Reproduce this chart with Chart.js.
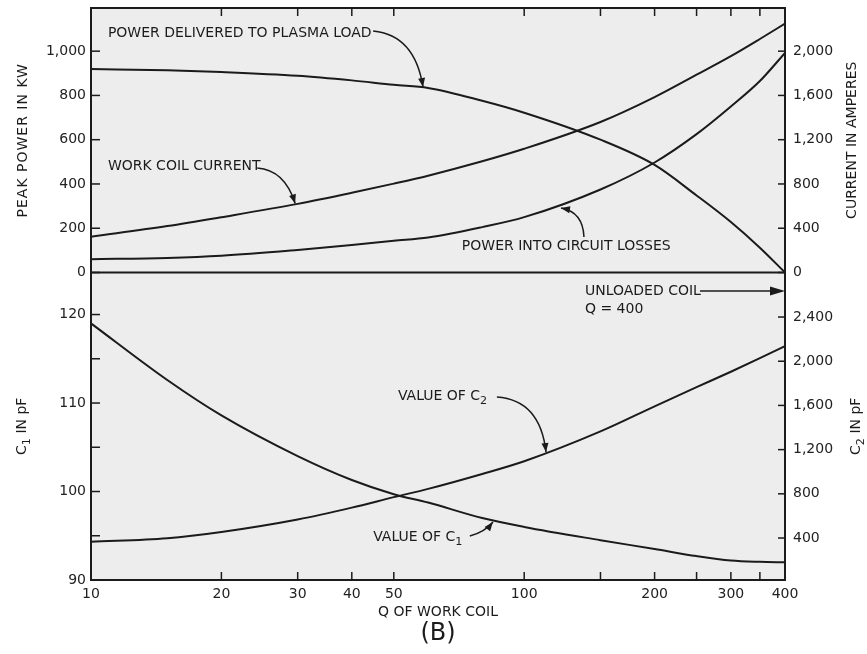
<!DOCTYPE html>
<html>
<head>
<meta charset="utf-8">
<script src="https://cdn.jsdelivr.net/npm/chart.js@4.4.0/dist/chart.umd.min.js"></script>
<style>
html, body { margin: 0; padding: 0; background: #fff; }
canvas { display: block; }
</style>
</head>
<body>
<canvas id="chart" width="867" height="654" style="width:867px;height:654px"></canvas>
<script>
// Q of work coil (log x axis)
var qValues = [10, 15, 20, 30, 40, 50, 60, 80, 100, 150, 200, 250, 300, 350, 400];

// upper panel
var powerToLoad = [919, 914, 906, 889, 868, 848, 834, 776, 722, 600, 486, 348, 228, 112, 0];      // kW
var circuitLosses = [60, 66, 76, 102, 124, 143, 158, 205, 250, 375, 497, 625, 750, 865, 992];     // kW
var coilCurrent = [324, 420, 500, 620, 720, 803, 875, 1005, 1118, 1360, 1585, 1787, 1955, 2110, 2249]; // amperes

// lower panel
var c1Values = [119.0, 112.6, 108.6, 104.0, 101.3, 99.7, 98.75, 97.0, 96.0, 94.5, 93.5, 92.7, 92.2, 92.05, 92.0]; // pF
var c2Values = [366, 398, 455, 568, 675, 770, 845, 980, 1095, 1365, 1592, 1765, 1905, 2028, 2137];  // pF

// ticks
var xTicks = [10, 20, 30, 40, 50, 100, 150, 200, 250, 300, 350, 400];
var xLabels = [10, 20, 30, 40, 50, 100, 200, 300, 400];
var powerTicks = [0, 200, 400, 600, 800, 1000];
var currentTicks = [0, 400, 800, 1200, 1600, 2000];
var c1Ticks = [90, 95, 100, 105, 110, 115, 120];
var c1Labels = [90, 100, 110, 120];
var c2Ticks = [400, 800, 1200, 1600, 2000, 2400];

var ink = '#1b1b1b';
var family = '"DejaVu Sans", sans-serif';

// notes on the plot, placed in data units
var textNotes = [
    { parts: [{ t: 'POWER DELIVERED TO PLASMA LOAD' }], q: 10.94, v: 1082, axis: 'yP' },
    { parts: [{ t: 'WORK COIL CURRENT' }], q: 10.94, v: 481, axis: 'yP' },
    { parts: [{ t: 'POWER INTO CIRCUIT LOSSES' }], q: 71.8, v: 120, axis: 'yP' },
    { parts: [{ t: 'UNLOADED COIL' }], q: 138.1, v: 122.66, axis: 'yC1' },
    { parts: [{ t: 'Q = 400' }], q: 138.1, v: 120.62, axis: 'yC1' },
    { parts: [{ t: 'VALUE OF C' }, { t: '2', sub: true }], q: 51.1, v: 110.79, axis: 'yC1' },
    { parts: [{ t: 'VALUE OF C' }, { t: '1', sub: true }], q: 44.8, v: 94.86, axis: 'yC1' }
];

var arrowNotes = [
    { axis: 'yP', from: [44.8, 1091], ctrl: [55.9, 1073], to: [58.4, 838] },
    { axis: 'yP', from: [24.2, 472], ctrl: [28.0, 463], to: [29.6, 312] },
    { axis: 'yP', from: [137.4, 160], ctrl: [136.7, 273], to: [121.6, 291] },
    { axis: 'yC1', from: [254.6, 122.66], to: [400, 122.66] },
    { axis: 'yC1', from: [86.5, 110.68], ctrl: [108.8, 110.34], to: [112.3, 104.46] },
    { axis: 'yC1', from: [74.9, 94.97], ctrl: [81.2, 95.42], to: [84.7, 96.55] }
];

function pt(chart, q, v, axis) {
    return { x: chart.scales.x.getPixelForValue(q), y: chart.scales[axis].getPixelForValue(v) };
}

function drawRich(ctx, parts, x, y, size, center) {
    var total = 0;
    parts.forEach(function (p) {
        ctx.font = (p.sub ? size * 0.8 : size) + 'px ' + family;
        p.w = ctx.measureText(p.t).width;
        total += p.w;
    });
    var cx = center ? x - total / 2 : x;
    ctx.textAlign = 'left';
    ctx.textBaseline = 'middle';
    parts.forEach(function (p) {
        ctx.font = (p.sub ? size * 0.8 : size) + 'px ' + family;
        ctx.fillText(p.t, cx, p.sub ? y + size * 0.38 : y);
        cx += p.w;
    });
}

function arrowHead(ctx, from, to, len, half) {
    var a = Math.atan2(to.y - from.y, to.x - from.x);
    var c = Math.cos(a), s = Math.sin(a);
    ctx.beginPath();
    ctx.moveTo(to.x, to.y);
    ctx.lineTo(to.x - len * c + half * s, to.y - len * s - half * c);
    ctx.lineTo(to.x - len * c - half * s, to.y - len * s + half * c);
    ctx.closePath();
    ctx.fill();
}

function line(ctx, x1, y1, x2, y2) {
    ctx.beginPath();
    ctx.moveTo(x1, y1);
    ctx.lineTo(x2, y2);
    ctx.stroke();
}

function sideTitle(ctx, parts, x, scale, size) {
    ctx.save();
    ctx.translate(x, (scale.top + scale.bottom) / 2);
    ctx.rotate(-Math.PI / 2);
    drawRich(ctx, parts, 0, 0, size, true);
    ctx.restore();
}

var paperPlugin = {
    id: 'paper',
    beforeDraw: function (chart) {
        var ctx = chart.ctx, a = chart.chartArea;
        ctx.save();
        ctx.fillStyle = '#ffffff';
        ctx.fillRect(0, 0, chart.width, chart.height);
        ctx.fillStyle = '#ededed';
        ctx.fillRect(a.left, a.top, a.right - a.left, a.bottom - a.top);
        ctx.restore();
    },
    afterDraw: function (chart) {
        var ctx = chart.ctx, a = chart.chartArea;
        var sc = chart.scales;
        ctx.save();
        ctx.strokeStyle = ink;
        ctx.fillStyle = ink;

        // frame and panel divider
        ctx.lineWidth = 2;
        ctx.strokeRect(a.left, a.top, a.right - a.left, a.bottom - a.top);
        var zeroY = sc.yP.getPixelForValue(0);
        line(ctx, a.left, zeroY, a.right, zeroY);

        // inward tick marks
        ctx.lineWidth = 1.5;
        ['yP', 'yC1'].forEach(function (id) {
            sc[id].ticks.forEach(function (t) {
                var y = sc[id].getPixelForValue(t.value);
                line(ctx, a.left, y, a.left + 9, y);
            });
        });
        ['yI', 'yC2'].forEach(function (id) {
            sc[id].ticks.forEach(function (t) {
                var y = sc[id].getPixelForValue(t.value);
                line(ctx, a.right - 7, y, a.right, y);
            });
        });
        sc.x.ticks.forEach(function (t) {
            if (t.value === 10 || t.value === 400) return;
            var x = sc.x.getPixelForValue(t.value);
            line(ctx, x, a.top, x, a.top + 8);
            line(ctx, x, a.bottom - 8, x, a.bottom);
        });

        // axis titles
        ctx.letterSpacing = '1px';
        sideTitle(ctx, [{ t: 'PEAK POWER IN KW' }], 23, sc.yP, 14);
        ctx.letterSpacing = '0px';
        sideTitle(ctx, [{ t: 'C' }, { t: '1', sub: true }, { t: ' IN pF' }], 22, sc.yC1, 14);
        sideTitle(ctx, [{ t: 'CURRENT IN AMPERES' }], 852, sc.yI, 14);
        sideTitle(ctx, [{ t: 'C' }, { t: '2', sub: true }, { t: ' IN pF' }], 856, sc.yC2, 14);

        var midX = (a.left + a.right) / 2;
        drawRich(ctx, [{ t: 'Q OF WORK COIL' }], midX, 612, 14, true);
        drawRich(ctx, [{ t: '(B)' }], midX, 634, 24, true);

        // notes
        textNotes.forEach(function (n) {
            var p = pt(chart, n.q, n.v, n.axis);
            drawRich(ctx, n.parts, p.x, p.y, 14, false);
        });

        ctx.lineWidth = 1.5;
        arrowNotes.forEach(function (n) {
            var f = pt(chart, n.from[0], n.from[1], n.axis);
            var t = pt(chart, n.to[0], n.to[1], n.axis);
            ctx.beginPath();
            ctx.moveTo(f.x, f.y);
            if (n.ctrl) {
                var c = pt(chart, n.ctrl[0], n.ctrl[1], n.axis);
                ctx.quadraticCurveTo(c.x, c.y, t.x, t.y);
                ctx.stroke();
                arrowHead(ctx, c, t, 9, 3.5);
            } else {
                ctx.lineTo(t.x - 10, t.y);
                ctx.stroke();
                arrowHead(ctx, f, t, 15, 4.5);
            }
        });
        ctx.restore();
    }
};

function points(values) {
    return qValues.map(function (q, i) { return { x: q, y: values[i] }; });
}

function fixedTicks(list) {
    return function (scale) {
        scale.ticks = list.map(function (v) { return { value: v }; });
    };
}

function noPad(width) {
    return function (scale) {
        scale.width = width;
        scale.paddingTop = 0;
        scale.paddingBottom = 0;
    };
}

var tickFont = { family: family, size: 14 };
var commas = function (v) { return v.toLocaleString('en-US'); };

new Chart(document.getElementById('chart'), {
    type: 'line',
    data: {
        datasets: [
            { label: 'Power delivered to plasma load', data: points(powerToLoad), yAxisID: 'yP' },
            { label: 'Power into circuit losses', data: points(circuitLosses), yAxisID: 'yP' },
            { label: 'Work coil current', data: points(coilCurrent), yAxisID: 'yI' },
            { label: 'Value of C1', data: points(c1Values), yAxisID: 'yC1' },
            { label: 'Value of C2', data: points(c2Values), yAxisID: 'yC2' }
        ]
    },
    options: {
        responsive: false,
        animation: false,
        devicePixelRatio: 1,
        layout: { padding: { top: 8, left: 0, right: 0, bottom: 0 } },
        plugins: { legend: { display: false }, tooltip: { enabled: false } },
        elements: {
            point: { radius: 0 },
            line: { borderColor: ink, borderWidth: 2, cubicInterpolationMode: 'monotone', fill: false }
        },
        scales: {
            x: {
                type: 'logarithmic', position: 'bottom', min: 10, max: 400,
                grid: { display: false, drawTicks: false }, border: { display: false },
                afterBuildTicks: fixedTicks(xTicks),
                afterFit: function (s) { s.height = 74; s.paddingLeft = 0; s.paddingRight = 0; },
                ticks: {
                    autoSkip: false, maxRotation: 0, padding: 6, color: '#222', font: tickFont,
                    callback: function (v) { return xLabels.indexOf(v) >= 0 ? String(v) : ''; }
                }
            },
            yP: {
                type: 'linear', position: 'left', stack: 'left', stackWeight: 264.5, weight: 1,
                min: 0, max: 1195,
                grid: { display: false, drawTicks: false }, border: { display: false },
                afterBuildTicks: fixedTicks(powerTicks), afterFit: noPad(91),
                ticks: { autoSkip: false, padding: 5, color: '#222', font: tickFont, callback: commas }
            },
            yC1: {
                type: 'linear', position: 'left', stack: 'left', stackWeight: 307.5, weight: 0,
                min: 90, max: 124.75,
                grid: { display: false, drawTicks: false }, border: { display: false },
                afterBuildTicks: fixedTicks(c1Ticks), afterFit: noPad(91),
                ticks: {
                    autoSkip: false, padding: 5, color: '#222', font: tickFont,
                    callback: function (v) { return c1Labels.indexOf(v) >= 0 ? String(v) : ''; }
                }
            },
            yI: {
                type: 'linear', position: 'right', stack: 'right', stackWeight: 264.5, weight: 0,
                min: 0, max: 2390,
                grid: { display: false, drawTicks: false }, border: { display: false },
                afterBuildTicks: fixedTicks(currentTicks), afterFit: noPad(82),
                ticks: { autoSkip: false, padding: 8, color: '#222', font: tickFont, callback: commas }
            },
            yC2: {
                type: 'linear', position: 'right', stack: 'right', stackWeight: 307.5, weight: 1,
                min: 20, max: 2803,
                grid: { display: false, drawTicks: false }, border: { display: false },
                afterBuildTicks: fixedTicks(c2Ticks), afterFit: noPad(82),
                ticks: { autoSkip: false, padding: 8, color: '#222', font: tickFont, callback: commas }
            }
        }
    },
    plugins: [paperPlugin]
});
</script>
</body>
</html>
